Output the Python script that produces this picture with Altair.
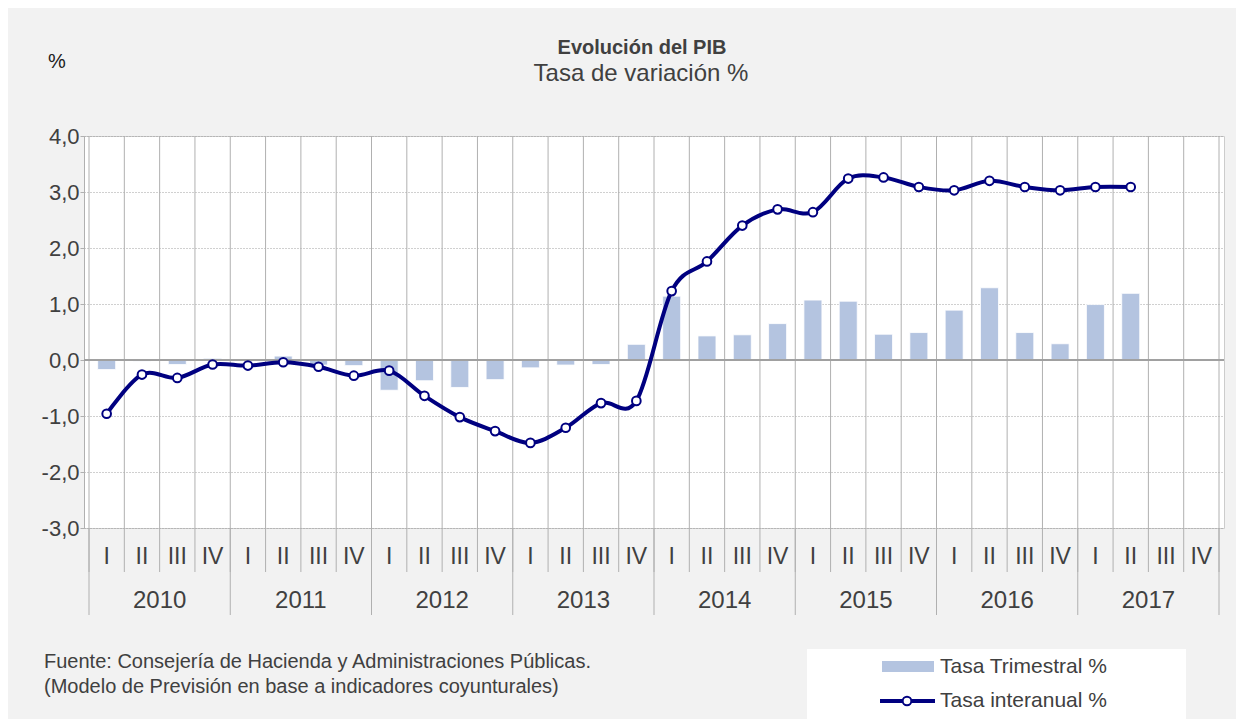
import altair as alt
import pandas as pd

# ---- data ----
years = ["2010", "2011", "2012", "2013", "2014", "2015", "2016", "2017"]
quarters = ["I", "II", "III", "IV"]
tasa_trimestral = [-0.17, -0.02, -0.08, 0.03, 0.01, 0.07, -0.09, -0.10,
                   -0.54, -0.37, -0.49, -0.35, -0.14, -0.09, -0.08, 0.28,
                   1.14, 0.43, 0.45, 0.65, 1.07, 1.05, 0.46, 0.49,
                   0.89, 1.29, 0.49, 0.29, 0.99, 1.19]
tasa_interanual = [-0.96, -0.26, -0.32, -0.08, -0.10, -0.04, -0.12, -0.28,
                   -0.19, -0.64, -1.02, -1.27, -1.48, -1.21, -0.77, -0.73,
                   1.23, 1.76, 2.40, 2.69, 2.64, 3.24, 3.26, 3.09,
                   3.03, 3.20, 3.09, 3.03, 3.09, 3.09]
y_ticks = [-3, -2, -1, 0, 1, 2, 3, 4]
title_text = "Evolución del PIB"
subtitle_text = "Tasa de variación %"
unit_label = ["%"]
source_lines = ["Fuente: Consejería de Hacienda y Administraciones Públicas.",
                "(Modelo de Previsión en base a indicadores coyunturales)"]
legend_labels = ["Tasa Trimestral %", "Tasa interanual %"]

FONT = "Liberation Sans, Arial, sans-serif"
TXT = "#404040"
BAR = "#b4c4e0"
NAVY = "#000080"
GRID = "#b0b0b0"

W, H = 1140, 392
n_slots = len(years) * len(quarters)

df = pd.DataFrame({
    "pos": [i + 0.5 for i in range(len(tasa_trimestral))],
    "year": [years[i // 4] for i in range(len(tasa_trimestral))],
    "quarter": [quarters[i % 4] for i in range(len(tasa_trimestral))],
    "trimestral": tasa_trimestral,
    "interanual": tasa_interanual,
})
qlab = pd.DataFrame({"pos": [k + 0.5 for k in range(n_slots)],
                     "label": [quarters[k % 4] for k in range(n_slots)]})
ylab = pd.DataFrame({"pos": [4 * i + 2 for i in range(len(years))], "label": years})
qb = pd.DataFrame({"b": list(range(n_slots + 1))})
yb = pd.DataFrame({"b": list(range(0, n_slots + 1, 4))})

xs = alt.Scale(domain=[0, n_slots])
ys = alt.Scale(domain=[-3, 4], nice=False)
X = alt.X("pos:Q", scale=xs, axis=None)

q_rules = alt.Chart(qb).mark_rule(color=GRID, strokeWidth=1).encode(
    x=alt.X("b:Q", scale=xs, axis=None), y=alt.value(0), y2=alt.value(436))
y_rules = alt.Chart(yb).mark_rule(color=GRID, strokeWidth=1).encode(
    x=alt.X("b:Q", scale=xs, axis=None), y=alt.value(392), y2=alt.value(479))

bars = alt.Chart(df).mark_bar(size=18, color=BAR, stroke="white", strokeWidth=0.8).encode(
    x=X,
    y=alt.Y("trimestral:Q", scale=ys, title=None,
            axis=alt.Axis(values=y_ticks,
                          labelExpr="(datum.value < 0 ? '-' : '') + replace(format(abs(datum.value), '.1f'), '.', ',')",
                          grid=True, gridDash=[1, 2], gridColor="#a0a0a0",
                          domainColor=GRID, tickColor=GRID, tickSize=4,
                          labelFontSize=22, labelFont=FONT, labelColor=TXT,
                          labelPadding=1)),
    y2=alt.datum(0),
)
zero = alt.Chart(df).mark_rule(color="#a0a0a0", strokeWidth=1).encode(y=alt.datum(0))

line = alt.Chart(df).mark_line(color=NAVY, strokeWidth=4, interpolate="cardinal").encode(
    x=X, y=alt.Y("interanual:Q", scale=ys))
pts = alt.Chart(df).mark_circle(size=75, fill="white", stroke=NAVY, strokeWidth=2, opacity=1).encode(
    x=X, y=alt.Y("interanual:Q", scale=ys))

qtext = alt.Chart(qlab).mark_text(font=FONT, fontSize=23, color=TXT, baseline="middle").encode(
    x=alt.X("pos:Q", scale=xs, axis=None), y=alt.value(421), text="label:N")
ytext = alt.Chart(ylab).mark_text(font=FONT, fontSize=24, color=TXT, baseline="middle").encode(
    x=alt.X("pos:Q", scale=xs, axis=None), y=alt.value(465), text="label:N")

# chart title and subtitle
ttl = pd.DataFrame({"t": [title_text]})
title_mark = alt.Chart(ttl).mark_text(
    font=FONT, fontSize=20, fontWeight="bold", color=TXT, baseline="alphabetic", align="center").encode(
    x=alt.value(558), y=alt.value(-82), text="t:N")
sub = pd.DataFrame({"t": [subtitle_text]})
subtitle_mark = alt.Chart(sub).mark_text(
    font=FONT, fontSize=24, color=TXT, baseline="alphabetic", align="center").encode(
    x=alt.value(557), y=alt.value(-55), text="t:N")

unit = alt.Chart(pd.DataFrame({"t": unit_label})).mark_text(
    font=FONT, fontSize=20, color="#202020", baseline="middle", align="center").encode(
    x=alt.value(-27), y=alt.value(-74), text="t:N")

src = pd.DataFrame({"t": source_lines, "yy": [526, 551]})
source = alt.Chart(src).mark_text(font=FONT, fontSize=20, color=TXT, baseline="middle", align="left").encode(
    x=alt.value(-40), y=alt.Y("yy:Q", scale=None), text="t:N")

leg_df = pd.DataFrame({"t": legend_labels, "yy": [531, 565]})
leg_box = alt.Chart(leg_df.head(1)).mark_rect(color="white").encode(
    x=alt.value(723), x2=alt.value(1102), y=alt.value(513), y2=alt.value(583))
leg_bar = alt.Chart(leg_df.head(1)).mark_rect(color=BAR).encode(
    x=alt.value(798), x2=alt.value(850), y=alt.value(525), y2=alt.value(536))
leg_line = alt.Chart(leg_df.head(1)).mark_rule(color=NAVY, strokeWidth=4).encode(
    x=alt.value(796), x2=alt.value(851), y=alt.value(565))
leg_pt = alt.Chart(leg_df.head(1)).mark_circle(size=75, fill="white", stroke=NAVY, strokeWidth=2, opacity=1).encode(
    x=alt.value(823), y=alt.value(565))
leg_txt = alt.Chart(leg_df).mark_text(font=FONT, fontSize=21, color=TXT, baseline="middle", align="left").encode(
    x=alt.value(856), y=alt.Y("yy:Q", scale=None), text="t:N")

chart = alt.layer(
    q_rules, y_rules, bars, zero, line, pts, qtext, ytext, title_mark, subtitle_mark, unit, source,
    leg_box, leg_bar, leg_line, leg_pt, leg_txt
).properties(
    width=W, height=H,
    padding={"left": 76, "top": 128, "right": 12, "bottom": 191},
    autosize=alt.AutoSizeParams(type="none"),
    background="#f2f2f2",
).configure_view(fill="white", stroke="#cccccc", strokeWidth=1)

chart.save("out.html", embed_options={"renderer": "svg", "actions": False})
